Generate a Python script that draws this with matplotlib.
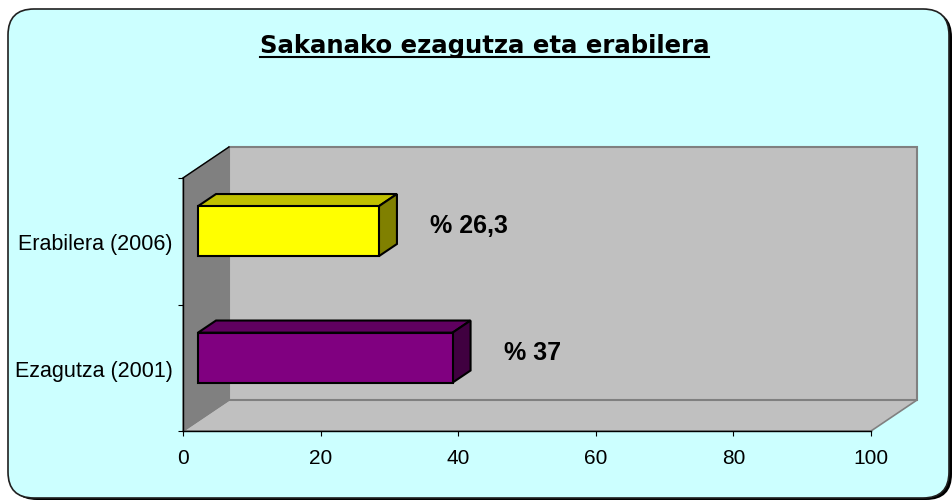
import matplotlib
matplotlib.use('Agg')
import matplotlib.pyplot as plt
import matplotlib.transforms as mtransforms
from matplotlib.patches import Polygon, FancyBboxPatch
from matplotlib.lines import Line2D

# ---- data ----
categories = ['Ezagutza (2001)', 'Erabilera (2006)']
values = [37, 26.3]
value_labels = ['% 37', '% 26,3']
x_ticks = [0, 20, 40, 60, 80, 100]
title = 'Sakanako ezagutza eta erabilera'

# ---- styles ----
bar_colors = ['#800080', '#FFFF00']
top_colors = ['#600060', '#C0C000']
side_colors = ['#400040', '#808000']

plt.rcParams['font.family'] = ['Liberation Sans', 'DejaVu Sans']

W, H = 953, 502
fig = plt.figure(figsize=(W / 100, H / 100), dpi=100)
fig.patch.set_facecolor('white')
ident = mtransforms.IdentityTransform()

# rounded chart-area box with shadow
shadow = FancyBboxPatch((11, H - 501), 941, 489, boxstyle='round,pad=0,rounding_size=26',
                        transform=ident, facecolor='black', edgecolor='none', zorder=-5)
box = FancyBboxPatch((8, H - 499), 941, 489, boxstyle='round,pad=0,rounding_size=26',
                     transform=ident, facecolor='#CCFFFF', edgecolor='#202020', lw=1.2, zorder=-4)
fig.add_artist(shadow)
fig.add_artist(box)

ax = fig.add_axes([183 / W, 70 / H, 688 / W, 253 / H])
ax.patch.set_visible(False)
ax.set_xlim(0, 100)
ax.set_ylim(0, len(categories))
for s in ['top', 'right']:
    ax.spines[s].set_visible(False)
for s in ['left', 'bottom']:
    ax.spines[s].set_color('black')
    ax.spines[s].set_linewidth(1.0)
    ax.spines[s].set_zorder(5)

ax.set_xticks(x_ticks)
ax.set_xticklabels([str(t) for t in x_ticks])
ax.set_yticks(range(len(categories) + 1))
ax.set_yticklabels([])
centers = [i + 0.5 for i in range(len(categories))]
ax.set_yticks(centers, minor=True)
ax.set_yticklabels(categories, minor=True)
ax.tick_params(axis='x', length=3.6, width=0.8, pad=8.5, labelsize=15, colors='black')
ax.tick_params(axis='y', which='major', length=3.6, width=0.8)
ax.tick_params(axis='y', which='minor', length=0, pad=7.2, labelsize=15.5)

DX, DY = 46, 31


def A(x, y, d):
    p = ax.transAxes.transform((x, y))
    return (p[0] + d * DX, p[1] + d * DY)


def D(x, y, d):
    p = ax.transData.transform((x, y))
    return (p[0] + d * DX, p[1] + d * DY)


def poly(pts, fc, ec, lw, z):
    p = Polygon(pts, closed=True, facecolor=fc, edgecolor=ec, lw=lw,
                transform=ident, clip_on=False, zorder=z)
    ax.add_artist(p)


# walls
poly([A(0, 0, 0), A(1, 0, 0), A(1, 0, 1), A(0, 0, 1)], '#C0C0C0', '#808080', 1.2, 0.5)
poly([A(0, 0, 1), A(1, 0, 1), A(1, 1, 1), A(0, 1, 1)], '#C0C0C0', '#808080', 1.5, 0.6)
poly([A(0, 0, 0), A(0, 1, 0), A(0, 1, 1), A(0, 0, 1)], '#808080', '#808080', 1.0, 0.7)
ax.add_artist(Line2D([A(0, 1, 0)[0], A(0, 1, 1)[0]], [A(0, 1, 0)[1], A(0, 1, 1)[1]],
                     color='black', lw=1.0, transform=ident, clip_on=False, zorder=0.8))

# 3D bars
h = 0.395
d0, d1 = 15 / DX, 33 / DX
for i, (c, v) in enumerate(zip(centers, values)):
    lo, hi = c - h / 2, c + h / 2
    z = 2 + i * 0.1
    poly([D(0, hi, d0), D(v, hi, d0), D(v, hi, d1), D(0, hi, d1)], top_colors[i], 'black', 1.5, z)
    poly([D(v, lo, d0), D(v, lo, d1), D(v, hi, d1), D(v, hi, d0)], side_colors[i], 'black', 1.5, z)
    poly([D(0, lo, d0), D(v, lo, d0), D(v, hi, d0), D(0, hi, d0)], bar_colors[i], 'black', 1.5, z + 0.05)
    off = mtransforms.ScaledTranslation(66 / 100, 16 / 100, fig.dpi_scale_trans)
    ax.text(v, c, value_labels[i], transform=ax.transData + off, ha='left', va='center',
            fontsize=18, fontweight='bold', color='black', zorder=10)

# title with underline
t = fig.text(484.5 / W, (H - 53) / H, title, ha='center', va='baseline',
             fontsize=17.6, fontweight='bold', family=['DejaVu Sans'], color='black')
fig.canvas.draw()
bb = t.get_window_extent()
fig.add_artist(Line2D([bb.x0, bb.x1], [H - 57.5, H - 57.5], color='black', lw=1.5,
                      transform=ident))

fig.savefig('out.png', dpi=100, facecolor='white')
